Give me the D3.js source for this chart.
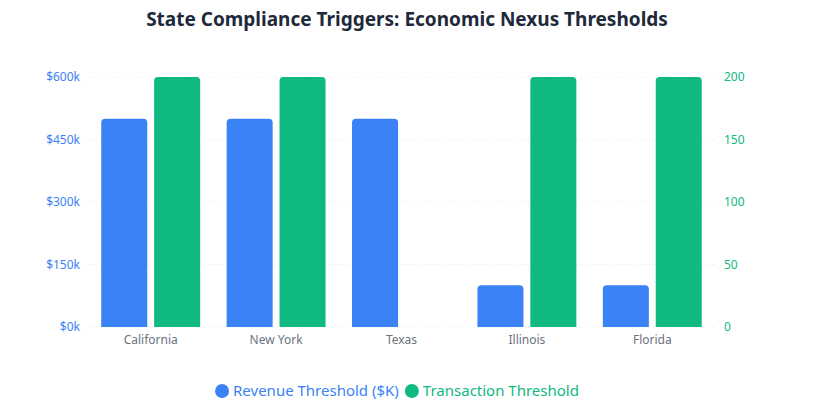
<!DOCTYPE html>
<html>
<head>
<meta charset="utf-8">
<script src="https://cdn.jsdelivr.net/npm/d3@7"></script>
<style>
  body { margin: 0; background: #fff; font-family: "Noto Sans", "Open Sans", sans-serif; }
</style>
</head>
<body>
<div id="chart"></div>
<script>
var states = ["California", "New York", "Texas", "Illinois", "Florida"];
var revenueK = [500, 500, 500, 100, 100];
var transactions = [200, 200, null, 200, 200];
var revTicks = [0, 150, 300, 450, 600];
var txTicks = [0, 50, 100, 150, 200];
var seriesNames = ["Revenue Threshold ($K)", "Transaction Threshold"];
var colors = ["#3b82f6", "#10b981"];

var width = 820, height = 416;
var margin = {top: 77, right: 105, bottom: 89, left: 88};
var innerW = width - margin.left - margin.right,
    innerH = height - margin.top - margin.bottom;

var svg = d3.select("#chart").append("svg")
    .attr("width", width)
    .attr("height", height);

// title
svg.append("text")
    .attr("x", 407)
    .attr("y", 26)
    .attr("text-anchor", "middle")
    .style("font-size", "19px")
    .style("font-weight", "bold")
    .style("fill", "#1e293b")
    .text("State Compliance Triggers: Economic Nexus Thresholds");

var g = svg.append("g")
    .attr("transform", "translate(" + margin.left + "," + margin.top + ")");

var x0 = d3.scaleBand().domain(states).range([0, innerW]);
var x1 = d3.scaleBand().domain([0, 1]).range([0, x0.bandwidth()])
    .paddingInner(0.13).paddingOuter(0.25);

var yL = d3.scaleLinear().domain([0, 600]).range([innerH, 0]);
var yR = d3.scaleLinear().domain([0, 200]).range([innerH, 0]);

// grid (very faint)
g.selectAll(".grid").data(revTicks).enter().append("line")
    .attr("class", "grid")
    .attr("x1", 0).attr("x2", innerW)
    .attr("y1", function(d){ return yL(d); })
    .attr("y2", function(d){ return yL(d); })
    .style("stroke", "#f1f3f6")
    .style("stroke-dasharray", "3,3");

// left axis
var leftAxis = g.append("g")
    .call(d3.axisLeft(yL).tickValues(revTicks).tickSize(0).tickPadding(8)
        .tickFormat(function(d){ return "$" + d + "k"; }));
leftAxis.select(".domain").remove();
leftAxis.selectAll("text").style("fill", colors[0]).style("font-size", "12px")
    .style("font-family", "Noto Sans, sans-serif");

// right axis
var rightAxis = g.append("g")
    .attr("transform", "translate(" + innerW + ",0)")
    .call(d3.axisRight(yR).tickValues(txTicks).tickSize(0).tickPadding(9));
rightAxis.select(".domain").remove();
rightAxis.selectAll("text").style("fill", colors[1]).style("font-size", "12px")
    .style("font-family", "Noto Sans, sans-serif");

// bottom axis
var bottomAxis = g.append("g")
    .attr("transform", "translate(0," + innerH + ")")
    .call(d3.axisBottom(x0).tickSize(0).tickPadding(8));
bottomAxis.select(".domain").remove();
bottomAxis.selectAll("text").style("fill", "#6b7280").style("font-size", "12px")
    .style("font-family", "Noto Sans, sans-serif");

// rounded-top bar path
function topRounded(x, y, w, h, r) {
    r = Math.min(r, w / 2, h);
    return "M" + x + "," + (y + h) +
        "V" + (y + r) +
        "Q" + x + "," + y + " " + (x + r) + "," + y +
        "H" + (x + w - r) +
        "Q" + (x + w) + "," + y + " " + (x + w) + "," + (y + r) +
        "V" + (y + h) + "Z";
}

var barData = [];
states.forEach(function(s, i){
    barData.push({state: s, k: 0, v: revenueK[i], y: yL});
    if (transactions[i] !== null) barData.push({state: s, k: 1, v: transactions[i], y: yR});
});

g.selectAll(".bar").data(barData).enter().append("path")
    .attr("class", "bar")
    .attr("d", function(d){
        var xx = x0(d.state) + x1(d.k);
        var yy = d.y(d.v);
        return topRounded(xx, yy, x1.bandwidth(), innerH - yy, 4);
    })
    .style("fill", function(d){ return colors[d.k]; });

// legend
var legend = svg.append("g").attr("transform", "translate(0,391)");
var items = legend.selectAll(".item").data(seriesNames).enter().append("g").attr("class", "item");
items.append("circle").attr("r", 7).attr("cy", 0).style("fill", function(d, i){ return colors[i]; });
items.append("text").attr("x", 11).attr("dy", "0.35em")
    .style("font-size", "15px")
    .style("fill", function(d, i){ return colors[i]; })
    .text(function(d){ return d; });

var widths = [];
items.each(function(){ widths.push(this.getBBox().width); });
var gap = 6;
var total = d3.sum(widths) + gap * (widths.length - 1);
var cx = 397 - total / 2 + 7;
items.attr("transform", function(d, i){
    var t = "translate(" + cx + ",0)";
    cx += widths[i] + gap;
    return t;
});
</script>
</body>
</html>
